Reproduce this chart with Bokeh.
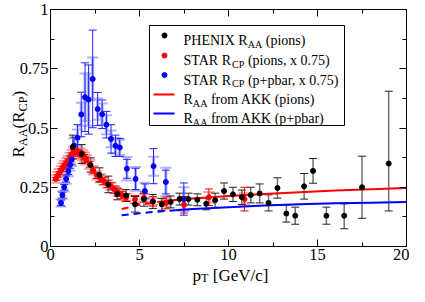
from math import pi
from bokeh.plotting import figure
from bokeh.models import Range1d, LinearAxis, FixedTicker, CustomJSTickFormatter, Label
from bokeh.embed import file_html
from bokeh.resources import INLINE

# ---------------- data ----------------
# PHENIX R_AA (pions)
phenix_pt = [1.25, 1.75, 2.25, 2.75, 3.25, 3.75, 4.25, 4.75, 5.25, 5.75, 6.25, 6.75, 7.25, 7.75,
             8.25, 8.75, 9.25, 9.75, 10.25, 10.75, 11.25, 11.75, 12.25, 12.75, 13.25, 13.75,
             14.25, 14.75, 15.5, 16.5, 17.5, 19.0]
phenix_r = [0.42, 0.39, 0.344, 0.302, 0.262, 0.222, 0.215, 0.178, 0.2, 0.19, 0.178, 0.188, 0.2, 0.2,
            0.197, 0.18, 0.195, 0.234, 0.22, 0.208, 0.217, 0.224, 0.184, 0.247, 0.139, 0.13,
            0.254, 0.319, 0.13, 0.13, 0.25, 0.35]
phenix_err_lo = [0.05, 0.04, 0.03, 0.03, 0.035, 0.025, 0.025, 0.033, 0.03, 0.03, 0.025, 0.025, 0.025, 0.025,
                 0.025, 0.025, 0.03, 0.034, 0.03, 0.03, 0.033, 0.04, 0.034, 0.043, 0.036, 0.036,
                 0.054, 0.052, 0.036, 0.055, 0.131, 0.2]
phenix_err_hi = [0.05, 0.04, 0.03, 0.03, 0.035, 0.025, 0.025, 0.033, 0.03, 0.03, 0.025, 0.025, 0.025, 0.025,
                 0.025, 0.025, 0.03, 0.034, 0.03, 0.03, 0.033, 0.04, 0.034, 0.043, 0.036, 0.036,
                 0.054, 0.052, 0.036, 0.05, 0.131, 0.305]

# STAR R_CP (pions, x 0.75)
star_pi_pt = [0.3, 0.4, 0.5, 0.6, 0.7, 0.8, 0.9, 1.0, 1.1, 1.2, 1.3, 1.4, 1.5, 1.6, 1.7, 1.8, 1.9, 2.0,
              2.2, 2.4, 2.6, 2.8, 3.0, 3.2, 3.4, 3.6, 3.8, 4.0, 4.25, 4.75, 5.25, 5.75, 6.5, 7.5, 8.9, 10.9]
star_pi_r = [0.285, 0.298, 0.31, 0.322, 0.333, 0.343, 0.353, 0.363, 0.375, 0.388, 0.4, 0.405, 0.4, 0.395,
             0.39, 0.385, 0.377, 0.366, 0.347, 0.322, 0.3, 0.288, 0.276, 0.264, 0.254, 0.24, 0.227,
             0.217, 0.207, 0.198, 0.205, 0.19, 0.184, 0.176, 0.208, 0.2]
star_pi_stat = [0.006, 0.006, 0.006, 0.006, 0.006, 0.006, 0.007, 0.007, 0.007, 0.008, 0.008, 0.009,
                0.009, 0.01, 0.01, 0.011, 0.011, 0.012, 0.012, 0.013, 0.013, 0.014, 0.014, 0.015,
                0.015, 0.015, 0.016, 0.016, 0.015, 0.017, 0.018, 0.02, 0.025, 0.035, 0.035, 0.05]
star_pi_sys = [0.016, 0.016, 0.017, 0.017, 0.018, 0.018, 0.019, 0.019, 0.02, 0.02, 0.021, 0.021,
               0.021, 0.021, 0.02, 0.02, 0.02, 0.02, 0.019, 0.018, 0.017, 0.017, 0.016, 0.016,
               0.015, 0.015, 0.014, 0.014, 0.014, 0.014, 0.015, 0.015, 0.016, 0.02, 0.022, 0.025]

# STAR R_CP (p+pbar, x 0.75)
star_p_pt = [0.59, 0.67, 0.77, 0.88, 1.0, 1.1, 1.19, 1.32, 1.52, 1.73, 1.94, 2.14, 2.37, 2.65, 2.9,
             3.14, 3.4, 3.65, 3.89, 4.29, 4.78, 5.3, 5.79, 6.48, 7.49]
star_p_r = [0.184, 0.217, 0.25, 0.285, 0.318, 0.345, 0.367, 0.426, 0.459, 0.557, 0.63, 0.62, 0.707,
            0.58, 0.558, 0.514, 0.454, 0.425, 0.418, 0.328, 0.285, 0.234, 0.339, 0.272, 0.2]
star_p_stat = [0.012, 0.012, 0.012, 0.013, 0.014, 0.015, 0.02, 0.035, 0.055, 0.094, 0.145, 0.146,
               0.206, 0.07, 0.06, 0.056, 0.06, 0.045, 0.038, 0.04, 0.045, 0.03, 0.074, 0.05, 0.068]
star_p_sys = [0.015, 0.016, 0.018, 0.02, 0.022, 0.024, 0.026, 0.03, 0.035, 0.05, 0.1, 0.11, 0.09,
              0.045, 0.045, 0.04, 0.035, 0.033, 0.032, 0.05, 0.05, 0.035, 0.04, 0.06, 0.05]

# R_AA from AKK
akk_pt = [4.0, 5.0, 6.0, 7.0, 8.0, 10.0, 12.0, 14.0, 16.0, 18.0, 20.0]
akk_pion = [0.158, 0.176, 0.188, 0.196, 0.203, 0.213, 0.222, 0.229, 0.236, 0.242, 0.247]
akk_ppbar = [0.132, 0.14, 0.147, 0.153, 0.158, 0.166, 0.173, 0.178, 0.182, 0.185, 0.188]
akk_pion_dash_end = 2    # index where the dashed part ends
akk_ppbar_dash_end = 3

x_ticks = [0, 5, 10, 15, 20]
x_minor_ticks = [2.5, 7.5, 12.5, 17.5]
y_ticks = [0, 0.25, 0.5, 0.75, 1]
y_minor_ticks = [0.125, 0.375, 0.625, 0.875]

legend_rows = [
    [("PHENIX R", False), ("AA", True), (" (pions)", False)],
    [("STAR R", False), ("CP", True), (" (pions, x 0.75)", False)],
    [("STAR R", False), ("CP", True), (" (p+pbar, x 0.75)", False)],
    [("R", False), ("AA", True), (" from AKK (pions)", False)],
    [("R", False), ("AA", True), (" from AKK (p+pbar)", False)],
]
ylabel_parts = [("R", False), ("AA", True), ("(R", False), ("CP", True), (")", False)]
xlabel_parts = [("p", False), ("T", True), (" [GeV/c]", False)]

# ---------------- layout (canvas pixel geometry) ----------------
W, H = 409, 286
AX_L, AX_R = 50, 406         # canvas x of pT = 0 and pT = 20
AX_T, AX_B = 9, 246          # canvas y of R = 1 and R = 0
SX = (AX_R - AX_L) / 20.0
SY = (AX_B - AX_T) / 1.0
FONT = "Liberation Serif"


def dx(px):
    return (px - AX_L) / SX


def dy(py):
    return (AX_B - py) / SY


x_range = Range1d(dx(0), dx(W))
y_range = Range1d(dy(H), dy(0))

WID = {' ': 250, '(': 333, ')': 333, '+': 564, ',': 250, '.': 250, '/': 278, 'A': 722, 'C': 667,
       'E': 611, 'G': 722, 'H': 722, 'I': 333, 'K': 722, 'N': 722, 'P': 556, 'R': 667, 'S': 556,
       'T': 611, 'V': 722, 'X': 722, '[': 333, ']': 333, 'a': 444, 'b': 500, 'c': 444, 'e': 444,
       'f': 333, 'i': 278, 'm': 778, 'n': 500, 'o': 500, 'p': 500, 'r': 333, 's': 389, 'x': 500}


def tw(t, size):
    return sum(WID.get(ch, 500) for ch in t) / 1000.0 * size


p = figure(width=W, height=H, x_range=x_range, y_range=y_range,
           output_backend="svg", toolbar_location=None, min_border=0,
           x_axis_location=None, y_axis_location=None)
p.xgrid.visible = False
p.ygrid.visible = False
p.outline_line_color = None
p.background_fill_color = "white"
p.border_fill_color = "white"

xt = FixedTicker(ticks=x_ticks, minor_ticks=x_minor_ticks)
yt = FixedTicker(ticks=y_ticks, minor_ticks=y_minor_ticks)
fmt = CustomJSTickFormatter(code="return String(Math.round(tick*1000)/1000);")
blank = CustomJSTickFormatter(code="return '';")


def make_axis(ticker, loc, bounds, labels):
    ax = LinearAxis(ticker=ticker, fixed_location=loc, bounds=bounds)
    ax.major_tick_in = 7
    ax.major_tick_out = 0
    ax.minor_tick_in = 4
    ax.minor_tick_out = 0
    ax.axis_line_color = "black"
    ax.axis_line_width = 1
    ax.major_tick_line_color = "black"
    ax.minor_tick_line_color = "black"
    if labels:
        ax.formatter = fmt
        ax.major_label_text_font = FONT
        ax.major_label_text_font_size = "16.5px"
        ax.major_label_text_color = "black"
        ax.major_label_standoff = 2
    else:
        ax.formatter = blank
        ax.major_label_standoff = 0
    return ax


p.add_layout(make_axis(xt, 0, (0, 20), True), "below")
p.add_layout(make_axis(yt, 0, (0, 1), True), "left")
p.add_layout(make_axis(xt, 1, (0, 20), False), "above")
p.add_layout(make_axis(yt, 20, (0, 1), False), "right")


def errbars(x, y, lo, hi, color, width, cap, cap_w, cap_color=None):
    y0 = [a - b for a, b in zip(y, lo)]
    y1 = [a + b for a, b in zip(y, hi)]
    p.segment(x0=x, y0=y0, x1=x, y1=y1, line_color=color, line_width=width)
    cc = cap_color or color
    p.scatter(x=x, y=y0, marker="dash", size=cap, line_color=cc, line_width=cap_w)
    p.scatter(x=x, y=y1, marker="dash", size=cap, line_color=cc, line_width=cap_w)


# systematic (light) bars
errbars(star_pi_pt, star_pi_r, star_pi_sys, star_pi_sys, "#ffa0a0", 3, 11, 2)
errbars(star_p_pt, star_p_r, star_p_sys, star_p_sys, "#b0b0ff", 3, 11, 2)
# PHENIX bars
errbars(phenix_pt, phenix_r, phenix_err_lo, phenix_err_hi, "#707070", 1.5, 8, 1, "#222222")
# statistical bars
errbars(star_pi_pt, star_pi_r, star_pi_stat, star_pi_stat, "#ff0000", 1, 8, 1)
errbars(star_p_pt, star_p_r, star_p_stat, star_p_stat, "#2222ff", 1, 8, 1)

# AKK curves
p.line(akk_pt[:akk_pion_dash_end + 1], akk_pion[:akk_pion_dash_end + 1], line_color="#ff0000",
       line_width=2, line_dash="7 5")
p.line(akk_pt[akk_pion_dash_end:], akk_pion[akk_pion_dash_end:], line_color="#ff0000", line_width=2)
p.line(akk_pt[:akk_ppbar_dash_end + 1], akk_ppbar[:akk_ppbar_dash_end + 1], line_color="#0000ff",
       line_width=2, line_dash="7 5")
p.line(akk_pt[akk_ppbar_dash_end:], akk_ppbar[akk_ppbar_dash_end:], line_color="#0000ff", line_width=2)

# points
p.scatter(star_pi_pt, star_pi_r, size=5, color="#ff0000")
p.scatter(star_p_pt, star_p_r, size=5, color="#0000ff")
p.scatter(phenix_pt, phenix_r, size=5, color="black")

# ---------------- legend (manual, with subscripts) ----------------
p.quad(left=[dx(149)], right=[dx(344)], top=[dy(25)], bottom=[dy(125)],
       fill_color="white", line_color="black", line_width=1)
row_y = [35, 55, 74.5, 94, 113]
marker_colors = ["black", "#ff0000", "#0000ff"]
for i in range(3):
    p.scatter([dx(164)], [dy(row_y[i])], size=5, color=marker_colors[i])
p.line([dx(153), dx(174)], [dy(row_y[3]), dy(row_y[3])], line_color="#ff0000", line_width=2)
p.line([dx(153), dx(174)], [dy(row_y[4]), dy(row_y[4])], line_color="#0000ff", line_width=2)


def rich(x_px, y_px, parts, size, vertical=False, sub_shift=0.28):
    pos = 0.0
    for t, sub in parts:
        fs = size * 0.72 if sub else size
        shift = size * sub_shift if sub else 0.0
        stripped = t.lstrip(" ")
        lead = tw(t[:len(t) - len(stripped)], fs)
        if vertical:
            lab = Label(x=dx(x_px + shift), y=dy(y_px - pos - lead), text=stripped, angle=pi / 2)
        else:
            lab = Label(x=dx(x_px + pos + lead), y=dy(y_px + shift), text=stripped)
        lab.text_font = FONT
        lab.text_font_size = "%.1fpx" % fs
        lab.text_color = "black"
        lab.text_baseline = "alphabetic"
        lab.text_align = "left"
        p.add_layout(lab)
        pos += tw(t, fs)


for i, parts in enumerate(legend_rows):
    rich(183, row_y[i] + 5, parts, 14)

rich(18, 157, ylabel_parts, 17, vertical=True)
rich(192, 274.5, xlabel_parts, 17, sub_shift=0.2)

open("out.html", "w").write(file_html(p, INLINE))
